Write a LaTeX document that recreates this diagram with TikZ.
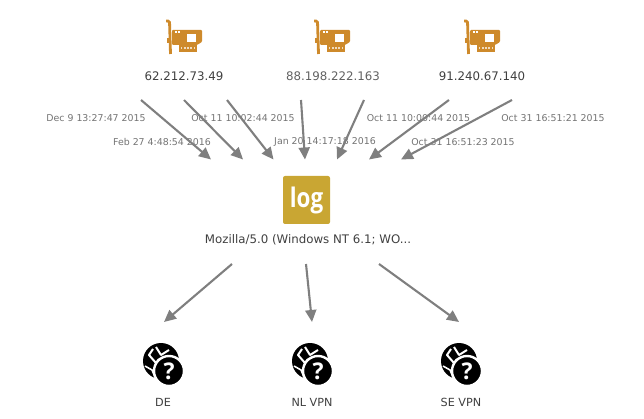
\documentclass[tikz,border=0pt]{standalone}
\usepackage{fontspec}
\setmainfont{DejaVu Sans}
\newfontfamily\logfont{Open Sans}
\usepackage{xcolor}
\usetikzlibrary{positioning,arrows.meta}
\definecolor{nicorange}{HTML}{CE8A2B}
\definecolor{loggold}{HTML}{C9A633}
\definecolor{flowgray}{HTML}{7F7F7F}
\tikzset{
    flow/.style={draw=flowgray, line width=2.1pt, -{Triangle[length=12pt,width=11pt]}},
    datelabel/.style={text=black!55, font=\fontsize{9.4}{11}\selectfont, inner sep=0pt},
    iplabel/.style={text=black!75, font=\fontsize{11.8}{13}\selectfont, inner sep=0pt},
    vpnlabel/.style={text=black!75, font=\fontsize{11.2}{13}\selectfont, inner sep=0pt},
    nic/.pic={
        % placa de rede
        \draw[nicorange, line width=2.8pt, rounded corners=1.5pt] (-18,-16) -- (-14.5,-16) -- (-13.5,17);
        \fill[nicorange] (-17,1) rectangle (-15,6);
        \fill[nicorange, rounded corners=1pt] (-12,-7) -- (18,-7) -- (18,5) -- (13,8) -- (-12,8) -- cycle;
        \fill[nicorange] (-5,8) rectangle (13,15);
        \fill[white] (3,-3) rectangle (12,5);
        \fill[white] (-9.5,-5.5) rectangle (-7.5,-3.5);
        \fill[white] (-6.2,-5.5) rectangle (-4.2,-3.5);
        \foreach \i in {0,1,2,3,4} {
            \fill[white!70!nicorange] (-3.5+3.3*\i,10) rectangle (-1.8+3.3*\i,12.5);
        }
    },
    globe/.pic={
        % globo com interrogacao
        \fill[black] (0,-1) circle (18);
        \draw[white, line width=2pt, line join=round] (-8,-13) -- (-12,-7) -- (-5,1) -- (-2,-3);
        \draw[white, line width=2pt, line join=round] (-5,-15) -- (0,-7) -- (8,-12);
        \draw[white, line width=1.6pt, line join=round] (-16,4) -- (-9,8) -- (-6,15);
        \fill[black, draw=white, line width=2.4pt] (8,9) circle (15);
        \node[text=white, inner sep=0pt, font=\logfont\bfseries\fontsize{23}{23}\selectfont] (-mark) at (8,9) {?};
    },
}
\begin{document}
\begin{tikzpicture}[x=1pt,y=-1pt]
    \useasboundingbox (0,0) rectangle (644,419);
    % Origens
    \pic (nicA) at (184,37) {nic};
    \pic (nicB) at (332,37) {nic};
    \pic (nicC) at (482,37) {nic};
    \node[iplabel] (ipA) at (184,76) {62.212.73.49};
    \node[iplabel, text=black!62] (ipB) at (333,76) {88.198.222.163};
    \node[iplabel] (ipC) at (482,76) {91.240.67.140};
    % Datas
    \node[datelabel] (dateA) at (96,118) {Dec 9 13:27:47 2015};
    \node[datelabel] (dateB) at (162,142) {Feb 27 4:48:54 2016};
    \node[datelabel] (dateC) at (243,118) {Oct 11 10:02:44 2015};
    \node[datelabel] (dateD) at (325,142) {Jan 20 14:17:18 2016};
    \node[datelabel] (dateE) at (418.5,118) {Oct 11 10:00:44 2015};
    \node[datelabel] (dateF) at (463,142) {Oct 31 16:51:23 2015};
    \node[datelabel] (dateG) at (553,118) {Oct 31 16:51:21 2015};
    % Centro
    \node[fill=loggold, rounded corners=2pt, minimum width=47pt, minimum height=48pt, inner sep=0pt,
        text=white, font=\logfont\bfseries\fontsize{27}{27}\selectfont] (log) at (306.5,200) {\scalebox{0.83}[1]{log}};
    \node[iplabel, font=\fontsize{11.8}{13}\selectfont] (agent) at (308,240) {Mozilla/5.0 (Windows NT 6.1; WO...};
    % Destinos
    \pic (vpnA) at (161,362) {globe};
    \pic (vpnB) at (310,362) {globe};
    \pic (vpnC) at (459,362) {globe};
    \node[vpnlabel] (labA) at (163,402) {DE};
    \node[vpnlabel] (labB) at (312,402) {NL VPN};
    \node[vpnlabel] (labC) at (461,402) {SE VPN};
    % Pontas das setas
    \coordinate (inA) at (141,100);
    \coordinate (inB) at (184,100);
    \coordinate (inC) at (227,100);
    \coordinate (inD) at (301,100);
    \coordinate (inE) at (364,100);
    \coordinate (inF) at (449,100);
    \coordinate (inG) at (512,100);
    \coordinate (tipA) at (211,159.5);
    \coordinate (tipB) at (243,159.5);
    \coordinate (tipC) at (273.5,159.5);
    \coordinate (tipD) at (305,159.5);
    \coordinate (tipE) at (337,159.5);
    \coordinate (tipF) at (369,159.5);
    \coordinate (tipG) at (401,159.5);
    \coordinate (outA) at (232,264);
    \coordinate (outB) at (306,264);
    \coordinate (outC) at (379,264);
    \coordinate (endA) at (164,322);
    \coordinate (endB) at (312,322);
    \coordinate (endC) at (459,322);
    \foreach \a/\b in {inA/tipA,inB/tipB,inC/tipC,inD/tipD,inE/tipE,inF/tipF,inG/tipG,outA/endA,outB/endB,outC/endC} {
        \draw[flow] (\a) -- (\b);
    }
\end{tikzpicture}
\end{document}
